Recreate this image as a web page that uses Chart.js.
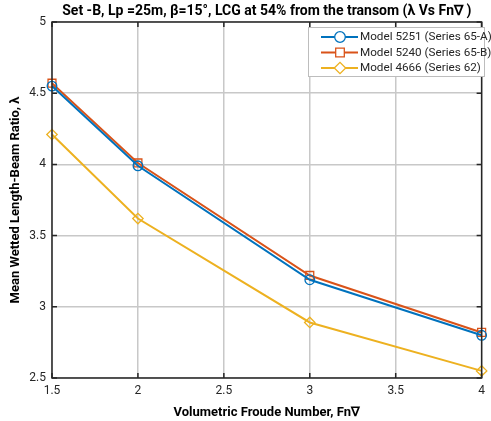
<!DOCTYPE html>
<html><head><meta charset="utf-8">
<script src="https://cdn.jsdelivr.net/npm/chart.js@4.4.1/dist/chart.umd.min.js"></script>
<style>html,body{margin:0;padding:0;background:#fff}#wrap{width:491px;height:421px}</style>
</head><body><div id="wrap"><canvas id="c" width="491" height="421"></canvas></div>
<script>
const froude = [1.5, 2, 3, 4];
const model5251 = [4.55, 3.99, 3.19, 2.80];
const model5240 = [4.57, 4.01, 3.22, 2.82];
const model4666 = [4.21, 3.62, 2.89, 2.55];
const xTicks = [1.5, 2, 2.5, 3, 3.5, 4];
const yTicks = [2.5, 3, 3.5, 4, 4.5, 5];
const seriesNames = ['Model 5251 (Series 65-A)', 'Model 5240 (Series 65-B)', 'Model 4666 (Series 62)'];

const FONT = 'Roboto, "Liberation Sans", sans-serif';
const pts = arr => froude.map((x, i) => ({x, y: arr[i]}));

const boxPlugin = {
  id: 'boxPlugin',
  afterDraw(chart) {
    const {ctx, chartArea: a, scales} = chart;
    ctx.save();
    ctx.strokeStyle = '#262626';
    ctx.lineWidth = 1.5;
    ctx.strokeRect(a.left, a.top, a.right - a.left, a.bottom - a.top);
    ctx.beginPath();
    xTicks.forEach(v => {
      const px = scales.x.getPixelForValue(v);
      ctx.moveTo(px, a.bottom); ctx.lineTo(px, a.bottom - 5);
      ctx.moveTo(px, a.top); ctx.lineTo(px, a.top + 5);
    });
    yTicks.forEach(v => {
      const py = scales.y.getPixelForValue(v);
      ctx.moveTo(a.left, py); ctx.lineTo(a.left + 5, py);
      ctx.moveTo(a.right, py); ctx.lineTo(a.right - 5, py);
    });
    ctx.stroke();
    // legend
    const lx = 308, ly = 27, lw = 176, lh = 49;
    ctx.fillStyle = '#fff';
    ctx.fillRect(lx, ly, lw, lh);
    ctx.strokeStyle = '#bdbdbd';
    ctx.lineWidth = 1;
    ctx.strokeRect(lx + 0.5, ly + 0.5, lw, lh);
    chart.data.datasets.forEach((ds, i) => {
      const y = 37 + i * 15.5;
      ctx.strokeStyle = ds.borderColor;
      ctx.lineWidth = 2;
      ctx.beginPath(); ctx.moveTo(321, y); ctx.lineTo(358, y); ctx.stroke();
      ctx.fillStyle = '#fff';
      ctx.lineWidth = 1.3;
      Chart.helpers.drawPoint(ctx, {pointStyle: ds.pointStyle, radius: ds.pointRadius + 0.5, borderWidth: 1.3}, 340, y);
      ctx.fillStyle = '#262626';
      ctx.font = '11.7px ' + FONT;
      ctx.textAlign = 'left';
      ctx.textBaseline = 'middle';
      ctx.fillText(seriesNames[i], 360, y + 0.5);
    });
    ctx.restore();
  }
};

const mk = (label, data, color, style, r) => ({
  label, data: pts(data), borderColor: color, backgroundColor: 'rgba(0,0,0,0)',
  borderWidth: 2, pointStyle: style, pointRadius: r, pointHoverRadius: r,
  pointBorderWidth: 1.3, pointBorderColor: color, pointBackgroundColor: 'rgba(0,0,0,0)',
  tension: 0, clip: false
});

new Chart(document.getElementById('c'), {
  type: 'line',
  data: {
    datasets: [
      mk(seriesNames[0], model5251, '#0072BD', 'circle', 4.8),
      mk(seriesNames[1], model5240, '#D95319', 'rect', 5.6),
      mk(seriesNames[2], model4666, '#EDB120', 'rectRot', 5.2)
    ]
  },
  options: {
    responsive: false, animation: false, devicePixelRatio: 1,
    layout: {padding: {left: 0, right: 4, top: 0, bottom: 0}},
    plugins: {
      legend: {display: false},
      tooltip: {enabled: false},
      title: {
        display: true, fullSize: false,
        text: 'Set -B, Lp =25m, β=15°, LCG at 54% from the transom (λ Vs Fn∇ )',
        color: '#000', font: {family: FONT, size: 14, weight: 'bold'},
        padding: {top: 3, bottom: 2.2}
      }
    },
    scales: {
      x: {
        type: 'linear', min: 1.5, max: 4,
        afterBuildTicks: s => { s.ticks = xTicks.map(v => ({value: v})); },
        afterFit: s => { s.height = 43; },
        grid: {color: '#c8c8c8', lineWidth: 1.5, drawTicks: false},
        border: {display: false},
        ticks: {color: '#262626', font: {family: FONT, size: 12}, padding: 6, maxRotation: 0,
                callback: v => String(v)},
        title: {display: true, text: 'Volumetric Froude Number, Fn∇', color: '#000',
                font: {family: FONT, size: 13, weight: 'bold'}, padding: {top: 1, bottom: 0}}
      },
      y: {
        type: 'linear', min: 2.5, max: 5,
        afterBuildTicks: s => { s.ticks = yTicks.map(v => ({value: v})); },
        afterFit: s => { s.width = 52; },
        grid: {color: '#c8c8c8', lineWidth: 1.5, drawTicks: false},
        border: {display: false},
        ticks: {color: '#262626', font: {family: FONT, size: 12}, padding: 6,
                callback: v => String(v)},
        title: {display: true, text: 'Mean Wetted Length-Beam Ratio, λ', color: '#000',
                font: {family: FONT, size: 13, weight: 'bold'}, padding: {top: 8, bottom: 4}}
      }
    }
  },
  plugins: [boxPlugin]
});
</script></body></html>
